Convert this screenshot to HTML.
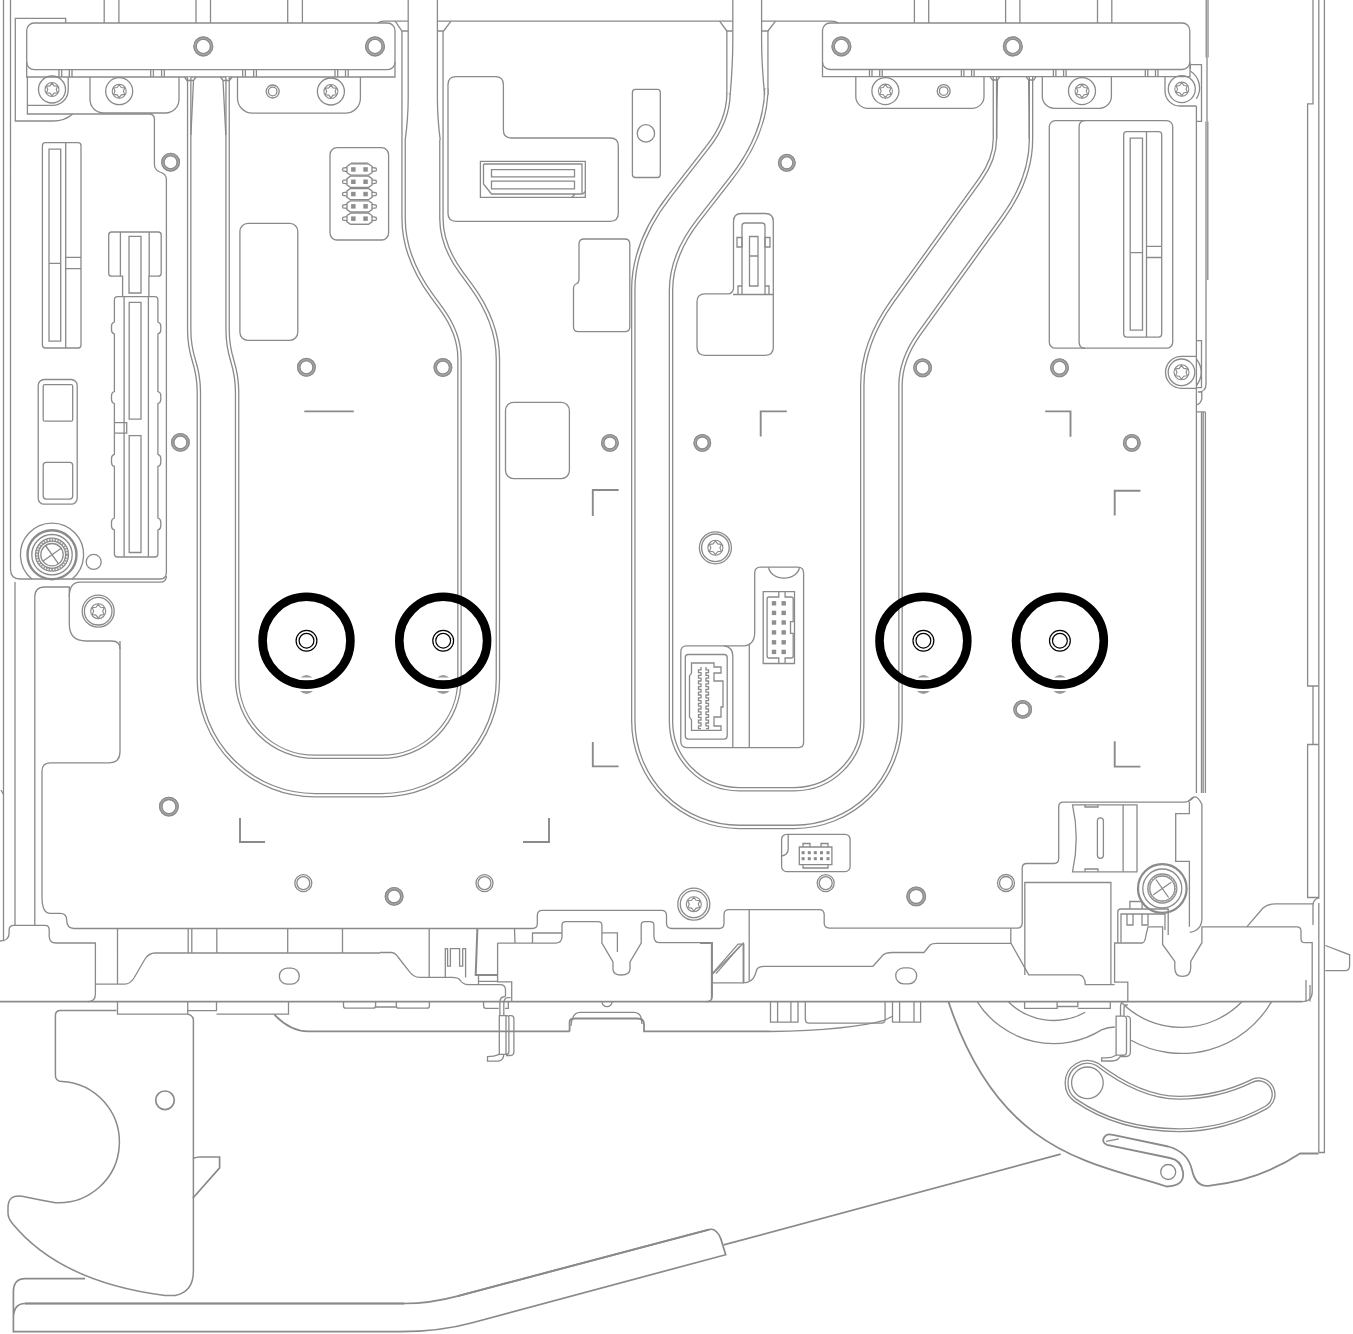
<!DOCTYPE html>
<html><head><meta charset="utf-8"><style>
html,body{margin:0;padding:0;background:#fff;width:1353px;height:1334px;overflow:hidden}
svg{display:block}
.g{fill:none;stroke:#8a8a8a;stroke-width:1.3}
.g2{fill:none;stroke:#b0b0b0;stroke-width:0.6}
.h{fill:none;stroke:#8a8a8a;stroke-width:2.6}
.pw{fill:none;stroke:#8a8a8a;stroke-width:4.6}
.pi{fill:none;stroke:#fff;stroke-width:2.0}
.k{fill:none;stroke:#000;stroke-width:8.6}
.k1{fill:none;stroke:#000;stroke-width:1.2}
</style></head><body>
<svg width="1353" height="1334" viewBox="0 0 1353 1334">
<path class="g" d="M3.5,0V941"/>
<path class="g" d="M10.5,0V569Q10.5,579 20,579H160Q166.4,579 166.4,572V179.5Q166.4,174 160,172Q154.4,170 154.4,164V119Q154.4,114 149,114H27.4V77"/>
<path class="g" d="M15.3,23V18.3H65.7V23M15.3,18.3V121H52.5Q65,121 72.7,114"/>
<path class="g" d="M104.2,0V23"/>
<path class="g" d="M118.9,0V23"/>
<path class="g" d="M196,0V23"/>
<path class="g" d="M210.5,0V23"/>
<path class="g" d="M287.7,0V23"/>
<path class="g" d="M302.4,0V23"/>
<path class="g" d="M914.4,0V23"/>
<path class="g" d="M928.7,0V23"/>
<path class="g" d="M1005.6,0V23"/>
<path class="g" d="M1019.9,0V23"/>
<path class="g" d="M1097.5,0V23"/>
<path class="g" d="M1111.8,0V23"/>
<rect class="g" x="26.7" y="23.0" width="368.3" height="46.7" rx="7.5"/>
<path class="g" d="M26.7,62V77H395V62"/>
<path class="g" d="M59,69.7V77M61.7,69.7V77"/>
<path class="g" d="M69.3,69.7V77M72.0,69.7V77"/>
<path class="g" d="M150.7,69.7V77M153.39999999999998,69.7V77"/>
<path class="g" d="M161.6,69.7V77M164.29999999999998,69.7V77"/>
<path class="g" d="M242.7,69.7V77M245.39999999999998,69.7V77"/>
<path class="g" d="M253.7,69.7V77M256.4,69.7V77"/>
<path class="g" d="M335,69.7V77M337.7,69.7V77"/>
<path class="g" d="M345.5,69.7V77M348.2,69.7V77"/>
<circle cx="203.3" cy="46.4" r="8.299999999999999" fill="none" stroke="#a6a6a6" stroke-width="3.4"/>
<circle class="g" style="stroke-width:1.1" cx="203.3" cy="46.4" r="9.5"/><circle class="g" style="stroke-width:1.1" cx="203.3" cy="46.4" r="7.1"/>
<circle cx="375" cy="46.4" r="8.299999999999999" fill="none" stroke="#a6a6a6" stroke-width="3.4"/>
<circle class="g" style="stroke-width:1.1" cx="375" cy="46.4" r="9.5"/><circle class="g" style="stroke-width:1.1" cx="375" cy="46.4" r="7.1"/>
<path class="g" d="M27.4,105.4H52.5A15.5,15.5 0 0 0 68.2,89.5V77"/>
<circle class="g" cx="52" cy="89.5" r="13.5"/>
<path class="g" style="stroke-width:1.1" d="M52.00,83.06 L54.10,85.86 L57.58,86.28 L56.20,89.50 L57.58,92.72 L54.10,93.14 L52.00,95.94 L49.90,93.14 L46.42,92.72 L47.80,89.50 L46.42,86.28 L49.90,85.86Z"/>
<circle class="g" style="stroke-width:1.1" cx="52" cy="89.5" r="7"/>
<path class="g" d="M90,77V99.5A13.5,13.5 0 0 0 103.5,113H165.5A13.5,13.5 0 0 0 179,99.5V77"/>
<circle class="g" cx="119.2" cy="91.2" r="13.5"/>
<path class="g" style="stroke-width:1.1" d="M119.20,84.76 L121.30,87.56 L124.78,87.98 L123.40,91.20 L124.78,94.42 L121.30,94.84 L119.20,97.64 L117.10,94.84 L113.62,94.42 L115.00,91.20 L113.62,87.98 L117.10,87.56Z"/>
<circle class="g" style="stroke-width:1.1" cx="119.2" cy="91.2" r="7"/>
<path class="g" d="M237.5,77V98A15,15 0 0 0 252.5,113.2H345.4A15,15 0 0 0 360.4,98V77"/>
<circle class="g" cx="272.7" cy="91.5" r="6.5"/>
<circle class="g" cx="272.7" cy="91.5" r="4.3"/>
<circle class="g" cx="330.9" cy="91.5" r="13.5"/>
<path class="g" style="stroke-width:1.1" d="M330.90,85.06 L333.00,87.86 L336.48,88.28 L335.10,91.50 L336.48,94.72 L333.00,95.14 L330.90,97.94 L328.80,95.14 L325.32,94.72 L326.70,91.50 L325.32,88.28 L328.80,87.86Z"/>
<circle class="g" style="stroke-width:1.1" cx="330.9" cy="91.5" r="7"/>
<path class="g" d="M437.4,21.1H451M443.6,31L451,21.1H732.8M761.6,21.1H831Q836,21.1 838.5,23"/>
<path class="g" d="M395.2,21.1L401.9,31H408.2"/>
<path class="g" d="M384,21.1H408.2M384,21.1Q380,21.1 378,23"/>
<rect class="g" x="822.5" y="23.0" width="367.3" height="46.5" rx="7.5"/>
<path class="g" d="M822.5,62V76.6H1190V62"/>
<path class="g" d="M869.5,69.5V76.6M872.0,69.5V76.6"/>
<path class="g" d="M879.7,69.5V76.6M882.2,69.5V76.6"/>
<path class="g" d="M961.4,69.5V76.6M963.9,69.5V76.6"/>
<path class="g" d="M971.6,69.5V76.6M974.1,69.5V76.6"/>
<path class="g" d="M1053.4,69.5V76.6M1055.9,69.5V76.6"/>
<path class="g" d="M1063.6,69.5V76.6M1066.1,69.5V76.6"/>
<path class="g" d="M1145.3,69.5V76.6M1147.8,69.5V76.6"/>
<path class="g" d="M1155.5,69.5V76.6M1158.0,69.5V76.6"/>
<circle cx="841.4" cy="46.4" r="8.299999999999999" fill="none" stroke="#a6a6a6" stroke-width="3.4"/>
<circle class="g" style="stroke-width:1.1" cx="841.4" cy="46.4" r="9.5"/><circle class="g" style="stroke-width:1.1" cx="841.4" cy="46.4" r="7.1"/>
<circle cx="1012.8" cy="46.4" r="8.299999999999999" fill="none" stroke="#a6a6a6" stroke-width="3.4"/>
<circle class="g" style="stroke-width:1.1" cx="1012.8" cy="46.4" r="9.5"/><circle class="g" style="stroke-width:1.1" cx="1012.8" cy="46.4" r="7.1"/>
<path class="g" d="M855.8,76.6V96.4A12,12 0 0 0 867.8,108.4H972A12,12 0 0 0 984,96.4V76.6"/>
<circle class="g" cx="885.4" cy="91.1" r="13.5"/>
<path class="g" style="stroke-width:1.1" d="M885.40,84.66 L887.50,87.46 L890.98,87.88 L889.60,91.10 L890.98,94.32 L887.50,94.74 L885.40,97.54 L883.30,94.74 L879.82,94.32 L881.20,91.10 L879.82,87.88 L883.30,87.46Z"/>
<circle class="g" style="stroke-width:1.1" cx="885.4" cy="91.1" r="7"/>
<circle class="g" cx="943.7" cy="91.1" r="6.5"/>
<circle class="g" cx="943.7" cy="91.1" r="4.3"/>
<path class="g" d="M1042.3,76.6V96.3A12,12 0 0 0 1054.3,108.3H1099.4A12,12 0 0 0 1111.4,96.3V76.6"/>
<circle class="g" cx="1082" cy="91.1" r="13.5"/>
<path class="g" style="stroke-width:1.1" d="M1082.00,84.66 L1084.10,87.46 L1087.58,87.88 L1086.20,91.10 L1087.58,94.32 L1084.10,94.74 L1082.00,97.54 L1079.90,94.74 L1076.42,94.32 L1077.80,91.10 L1076.42,87.88 L1079.90,87.46Z"/>
<circle class="g" style="stroke-width:1.1" cx="1082" cy="91.1" r="7"/>
<path class="g" d="M1190.3,69.5V64.7H1201.5V121.4H1196.2"/>
<path class="g" d="M1165,76.6V91A15,15 0 0 0 1180,106H1196.2"/>
<path class="g" d="M1190.3,71A20,20 0 0 1 1196.2,99"/>
<circle class="g" cx="1181.8" cy="89.1" r="13.5"/>
<path class="g" style="stroke-width:1.1" d="M1181.80,82.66 L1183.90,85.46 L1187.38,85.88 L1186.00,89.10 L1187.38,92.32 L1183.90,92.74 L1181.80,95.54 L1179.70,92.74 L1176.22,92.32 L1177.60,89.10 L1176.22,85.88 L1179.70,85.46Z"/>
<circle class="g" style="stroke-width:1.1" cx="1181.8" cy="89.1" r="7"/>
<path class="g" d="M1196.4,106V793"/>
<path class="g" d="M1206.2,0V57.5M1208,0V57.5M1207,57.5V121.4M1206,121.4V384Q1206,392 1198,392H1201.8V399Q1200,404.7 1196.4,404.7M1196.4,411.9H1205.4M1201.5,412V793M1203.2,412V793M1205.4,412V793"/>
<path class="g" d="M1313,0V103.8H1307.6V686H1318.8M1313,686V744.5M1318.8,744.5H1307.6V897.5H1318.8"/>
<path class="g" d="M1318.8,0V898.7"/>
<path class="pw" d="M189.2,77V330C189.2,361 198.85,361 198.85,392V679A116.2,116.2 0 0 0 315,795.2H381.9A116,116 0 0 0 497.9,679V359.2Q497.9,322.2 470.6,285.2L461.3,272.5Q441.4,245.5 441.4,218.5V140"/><path class="pi" d="M189.2,77V330C189.2,361 198.85,361 198.85,392V679A116.2,116.2 0 0 0 315,795.2H381.9A116,116 0 0 0 497.9,679V359.2Q497.9,322.2 470.6,285.2L461.3,272.5Q441.4,245.5 441.4,218.5V140"/>
<path class="g" d="M443.05,140V31"/>
<path class="pw" d="M227.6,77V330C227.6,361 237.1,361 237.1,392V679A77.8,77.8 0 0 0 314.9,756.8H381.7A77.8,77.8 0 0 0 459.5,679V358.3Q459.5,333.3 441.1,308.3L432.3,296.4Q403.6,257.4 403.6,218.4V140"/><path class="pi" d="M227.6,77V330C227.6,361 237.1,361 237.1,392V679A77.8,77.8 0 0 0 314.9,756.8H381.7A77.8,77.8 0 0 0 459.5,679V358.3Q459.5,333.3 441.1,308.3L432.3,296.4Q403.6,257.4 403.6,218.4V140"/>
<path class="g" d="M401.95,140V31"/>
<path class="g" d="M408.2,0V98Q408.2,118 405.2,140M437.4,0V98Q437.4,118 440.2,140M437.4,31H443.6"/>
<path class="g" d="M726.85,31V95"/>
<path class="pw" d="M728.5,95V93.4Q728.5,120.4 707.4,147.4L670.0,195.4Q633.3,242.4 633.3,289.4V721A106,106 0 0 0 739.3,826.9H794.5A106,106 0 0 0 900.5,721V385.6Q900.5,359.6 919.2,333.6L1002.9,217.4Q1031,178.4 1031,139.4V77"/><path class="pi" d="M728.5,95V93.4Q728.5,120.4 707.4,147.4L670.0,195.4Q633.3,242.4 633.3,289.4V721A106,106 0 0 0 739.3,826.9H794.5A106,106 0 0 0 900.5,721V385.6Q900.5,359.6 919.2,333.6L1002.9,217.4Q1031,178.4 1031,139.4V77"/>
<path class="g" d="M767.95,31V95"/>
<path class="pw" d="M766.3,95V88.2Q766.3,133.2 731.2,178.2L698.3,220.4Q671,255.4 671,290.4V721A68,68 0 0 0 739,789.2H794.3A68,68 0 0 0 862.3,721V385.2Q862.3,343.2 892.5,301.2L980.5,179.1Q994.9,159.1 994.9,139.1V77"/><path class="pi" d="M766.3,95V88.2Q766.3,133.2 731.2,178.2L698.3,220.4Q671,255.4 671,290.4V721A68,68 0 0 0 739,789.2H794.3A68,68 0 0 0 862.3,721V385.2Q862.3,343.2 892.5,301.2L980.5,179.1Q994.9,159.1 994.9,139.1V77"/>
<path class="g" d="M732.8,0V40Q732.8,65 730.15,95M761.6,0V40Q761.6,65 764.65,95"/>
<path class="g" d="M719.6,21.1L726.85,31H732.8M775.5,21.1L767.95,31H761.6"/>
<circle class="k" cx="306.5" cy="640.7" r="43.9"/>
<circle class="k1" cx="306.5" cy="640.7" r="10.4"/>
<circle class="k1" cx="306.5" cy="640.7" r="7.4"/>
<circle class="k" cx="443.2" cy="640.7" r="43.9"/>
<circle class="k1" cx="443.2" cy="640.7" r="10.4"/>
<circle class="k1" cx="443.2" cy="640.7" r="7.4"/>
<circle class="k" cx="923.4" cy="640.7" r="43.9"/>
<circle class="k1" cx="923.4" cy="640.7" r="10.4"/>
<circle class="k1" cx="923.4" cy="640.7" r="7.4"/>
<circle class="k" cx="1059.9" cy="640.7" r="43.9"/>
<circle class="k1" cx="1059.9" cy="640.7" r="10.4"/>
<circle class="k1" cx="1059.9" cy="640.7" r="7.4"/>
<rect class="g" x="42.4" y="142.7" width="38.6" height="205.3" rx="3"/>
<path class="g" d="M65.7,142.7V348"/>
<path class="g" d="M49,149.2H60.7V341.2H49Z"/>
<path class="g" d="M49,263.4H60.7M65.7,257.4H81M65.7,268.7H81"/>
<rect class="g" x="38.2" y="379.5" width="39.0" height="124.7" rx="6"/>
<rect class="g" x="43.2" y="384.7" width="29.5" height="36.5" rx="1.5"/>
<rect class="g" x="43.2" y="462.4" width="29.5" height="36.7" rx="3"/>
<path class="g" d="M122.6,296.7V276.2H111.7Q108.7,276.2 108.7,273.2V235Q108.7,232 111.7,232H158.2Q161.2,232 161.2,235V273.2Q161.2,276.2 158.2,276.2H148.9V296.7"/>
<path class="g" d="M120.4,232V276.2M149.2,232V276.2"/>
<path class="g" d="M129,236.4H141V293H129Z"/>
<path class="g" d="M114.4,300Q114.4,296.7 117.5,296.7H154.8Q157.9,296.7 157.9,300V322Q160.8,323 160.8,326V330Q160.8,333 157.9,334V391.5Q160.8,392.5 160.8,395.5V399.5Q160.8,402.5 157.9,403.5V454.4Q160.8,455.4 160.8,458.4V462.4Q160.8,465.4 157.9,466.4V518Q160.8,519 160.8,522V526Q160.8,529 157.9,530V554Q157.9,557 154.8,557H117.5Q114.4,557 114.4,554V530Q111.5,529 111.5,526V522Q111.5,519 114.4,518V466.4Q111.5,465.4 111.5,462.4V458.4Q111.5,455.4 114.4,454.4V403.5Q111.5,402.5 111.5,399.5V395.5Q111.5,392.5 114.4,391.5V334Q111.5,333 111.5,330V326Q111.5,323 114.4,322V300"/>
<path class="g" d="M124.1,296.7V557M148.4,296.7V557"/>
<path class="g" d="M129.2,302.4H141V419.2H129.2Z"/>
<path class="g" d="M129.2,435.7H141V552.5H129.2Z"/>
<path class="g" d="M114.7,422.7H126.7V433.1H114.7"/>
<circle cx="170.6" cy="162.2" r="7.7" fill="none" stroke="#a6a6a6" stroke-width="3.4"/>
<circle class="g" style="stroke-width:1.1" cx="170.6" cy="162.2" r="8.9"/><circle class="g" style="stroke-width:1.1" cx="170.6" cy="162.2" r="6.5"/>
<circle cx="180.4" cy="442.4" r="7.7" fill="none" stroke="#a6a6a6" stroke-width="3.4"/>
<circle class="g" style="stroke-width:1.1" cx="180.4" cy="442.4" r="8.9"/><circle class="g" style="stroke-width:1.1" cx="180.4" cy="442.4" r="6.5"/>
<circle cx="306.4" cy="367.3" r="7.7" fill="none" stroke="#a6a6a6" stroke-width="3.4"/>
<circle class="g" style="stroke-width:1.1" cx="306.4" cy="367.3" r="8.9"/><circle class="g" style="stroke-width:1.1" cx="306.4" cy="367.3" r="6.5"/>
<rect class="g" x="239.9" y="223.4" width="57.9" height="116.9" rx="8"/>
<rect class="g" x="330.0" y="147.7" width="58.6" height="92.3" rx="7"/>
<path class="g" d="M350.5,163.9H368.5L372,166.3V172.7L368.5,175.1H350.5L347,172.7V166.3Z"/>
<path class="g" d="M347,167.5L343,168.1Q341.9,169.5 343,170.9L347,171.5M372,167.5L376,168.1Q377,169.5 376,170.9L372,171.5"/>
<rect x="351.1" y="167.2" width="4.5" height="4.5" fill="#8f8f8f"/><rect x="363.3" y="167.2" width="4.5" height="4.5" fill="#8f8f8f"/>
<path class="g" d="M350.5,176.20000000000002H368.5L372,178.60000000000002V185.0L368.5,187.4H350.5L347,185.0V178.60000000000002Z"/>
<path class="g" d="M347,179.8L343,180.4Q341.9,181.8 343,183.20000000000002L347,183.8M372,179.8L376,180.4Q377,181.8 376,183.20000000000002L372,183.8"/>
<rect x="351.1" y="179.5" width="4.5" height="4.5" fill="#8f8f8f"/><rect x="363.3" y="179.5" width="4.5" height="4.5" fill="#8f8f8f"/>
<path class="g" d="M350.5,188.5H368.5L372,190.9V197.29999999999998L368.5,199.7H350.5L347,197.29999999999998V190.9Z"/>
<path class="g" d="M347,192.1L343,192.7Q341.9,194.1 343,195.5L347,196.1M372,192.1L376,192.7Q377,194.1 376,195.5L372,196.1"/>
<rect x="351.1" y="191.79999999999998" width="4.5" height="4.5" fill="#8f8f8f"/><rect x="363.3" y="191.79999999999998" width="4.5" height="4.5" fill="#8f8f8f"/>
<path class="g" d="M350.5,200.8H368.5L372,203.20000000000002V209.6L368.5,212.0H350.5L347,209.6V203.20000000000002Z"/>
<path class="g" d="M347,204.4L343,205.0Q341.9,206.4 343,207.8L347,208.4M372,204.4L376,205.0Q377,206.4 376,207.8L372,208.4"/>
<rect x="351.1" y="204.1" width="4.5" height="4.5" fill="#8f8f8f"/><rect x="363.3" y="204.1" width="4.5" height="4.5" fill="#8f8f8f"/>
<path class="g" d="M350.5,213.1H368.5L372,215.5V221.89999999999998L368.5,224.29999999999998H350.5L347,221.89999999999998V215.5Z"/>
<path class="g" d="M347,216.7L343,217.29999999999998Q341.9,218.7 343,220.1L347,220.7M372,216.7L376,217.29999999999998Q377,218.7 376,220.1L372,220.7"/>
<rect x="351.1" y="216.39999999999998" width="4.5" height="4.5" fill="#8f8f8f"/><rect x="363.3" y="216.39999999999998" width="4.5" height="4.5" fill="#8f8f8f"/>
<path class="g" d="M351,163.1H368M351,224.3H368"/>
<path class="g" d="M31.8,579A31.6,31.6 0 1 1 72.2,579"/>
<circle class="g" style="stroke-width:2.4" cx="52" cy="554.7" r="24.5"/>
<circle class="g" cx="52" cy="554.7" r="20.2"/>
<circle cx="52" cy="554.7" r="15" fill="none" stroke="#a0a0a0" stroke-width="2.6" stroke-dasharray="1.6 1.2"/>
<circle class="g" cx="52" cy="554.7" r="16.5"/>
<circle class="g" cx="52" cy="554.7" r="13.6"/>
<circle class="g" cx="52" cy="554.7" r="11.2"/>
<path class="g" d="M45.5,545.5L58.5,563.9M61.2,548.2L42.8,561.2"/>
<circle class="g" cx="93.7" cy="561.9" r="7.5"/>
<path class="g" d="M15,582V925.4"/>
<path class="g" d="M34.8,925.4V597Q34.8,587 44.8,587H69.3V624Q69.3,641 86,641H112Q120,641 120,649"/>
<path class="g" d="M69.3,597Q69.3,582.2 80,582.2H160Q166.4,582.2 166.4,576"/>
<circle class="g" cx="98.2" cy="611.2" r="16"/>
<circle class="g" cx="98.2" cy="611.2" r="13.8"/>
<circle class="g" cx="98.2" cy="611.2" r="0.01"/>
<path class="g" style="stroke-width:1.1" d="M98.20,604.30 L100.45,607.30 L104.18,607.75 L102.70,611.20 L104.18,614.65 L100.45,615.10 L98.20,618.10 L95.95,615.10 L92.22,614.65 L93.70,611.20 L92.22,607.75 L95.95,607.30Z"/>
<circle class="g" style="stroke-width:1.1" cx="98.2" cy="611.2" r="7.5"/>
<path class="g" style="stroke-width:1.9" d="M304.3,411.4H353.8"/>
<path class="g" d="M456,76.7H495.4Q503.4,76.7 503.4,84.7V130Q503.4,138 511.4,138H610.3Q618.3,138 618.3,146V213.3Q618.3,221.3 610.3,221.3H456Q448,221.3 448,213.3V84.7Q448,76.7 456,76.7Z"/>
<path class="g" d="M480.4,161.3H585.3V197.3H480.4Z"/>
<path class="g" d="M483.5,164H582V194H575L572,197.3M583,194L585.3,191.5M483.5,164V184L491.5,194H575"/>
<path class="g" d="M491.5,169.7H574.5V176.9H491.5ZM491.5,181.1H574.5V188.9H491.5Z"/>
<rect class="g" x="632.4" y="89.4" width="27.9" height="88.1" rx="3"/>
<circle class="g" cx="645.9" cy="133.4" r="8.7"/>
<path class="g" d="M584,239H624.8Q629.8,239 629.8,244V326.7Q629.8,331.7 624.8,331.7H578.5Q573.5,331.7 573.5,326.7V289Q573.5,285 576,284Q579,283 579,279V244Q579,239 584,239"/>
<circle cx="786.8" cy="162.8" r="7.2" fill="none" stroke="#a6a6a6" stroke-width="3.4"/>
<circle class="g" style="stroke-width:1.1" cx="786.8" cy="162.8" r="8.4"/><circle class="g" style="stroke-width:1.1" cx="786.8" cy="162.8" r="6.0"/>
<circle cx="442.9" cy="367.5" r="7.7" fill="none" stroke="#a6a6a6" stroke-width="3.4"/>
<circle class="g" style="stroke-width:1.1" cx="442.9" cy="367.5" r="8.9"/><circle class="g" style="stroke-width:1.1" cx="442.9" cy="367.5" r="6.5"/>
<path class="g" d="M697,301.9Q697,293.9 705,293.9H728Q732,293.9 733.5,289V221.5Q733.5,213.5 741.5,213.5H765.3Q773.3,213.5 773.3,221.5V347.3Q773.3,355.3 765.3,355.3H705Q697,355.3 697,347.3Z"/>
<path class="g" d="M733,294.5H773.3M742,294.5V226Q742,223 745,223H762Q765,223 765,226V294.5"/>
<path class="g" d="M737,237.5H742V247H737ZM765,237.5H770V247H765Z"/>
<path class="g" d="M749.5,236.5H758V286H749.5ZM749.5,256H758"/>
<path class="g" d="M738,294.5V286H742M769,294.5V286H765"/>
<rect class="g" x="505.5" y="402.4" width="63.9" height="76.2" rx="8"/>
<circle cx="609.9" cy="442.9" r="7.2" fill="none" stroke="#a6a6a6" stroke-width="3.4"/>
<circle class="g" style="stroke-width:1.1" cx="609.9" cy="442.9" r="8.4"/><circle class="g" style="stroke-width:1.1" cx="609.9" cy="442.9" r="6.0"/>
<circle cx="702.3" cy="442.9" r="7.2" fill="none" stroke="#a6a6a6" stroke-width="3.4"/>
<circle class="g" style="stroke-width:1.1" cx="702.3" cy="442.9" r="8.4"/><circle class="g" style="stroke-width:1.1" cx="702.3" cy="442.9" r="6.0"/>
<path class="g" style="stroke-width:1.9" d="M592.8,516V490H618.6"/>
<path class="g" style="stroke-width:1.9" d="M592.8,742V766.4H618.6"/>
<path class="g" style="stroke-width:1.9" d="M760.7,436.6V411.4H786.8"/>
<path class="g" style="stroke-width:1.9" d="M240,818V842H265"/>
<path class="g" style="stroke-width:1.9" d="M549,818V842H523"/>
<circle cx="168.9" cy="806.6" r="8.2" fill="none" stroke="#a6a6a6" stroke-width="3.4"/>
<circle class="g" style="stroke-width:1.1" cx="168.9" cy="806.6" r="9.4"/><circle class="g" style="stroke-width:1.1" cx="168.9" cy="806.6" r="7.0"/>
<circle class="g" cx="303.3" cy="883.1" r="8.5"/>
<circle class="g" cx="303.3" cy="883.1" r="6.5"/>
<circle cx="394.1" cy="896.4" r="7.7" fill="none" stroke="#a6a6a6" stroke-width="3.4"/>
<circle class="g" style="stroke-width:1.1" cx="394.1" cy="896.4" r="8.9"/><circle class="g" style="stroke-width:1.1" cx="394.1" cy="896.4" r="6.5"/>
<circle class="g" cx="484.5" cy="883.1" r="8.5"/>
<circle class="g" cx="484.5" cy="883.1" r="6.5"/>
<circle class="g" cx="693.8" cy="904.2" r="16"/>
<circle class="g" cx="693.8" cy="904.2" r="13.5"/>
<circle class="g" cx="693.8" cy="904.2" r="0.01"/>
<path class="g" style="stroke-width:1.1" d="M693.80,897.30 L696.05,900.30 L699.78,900.75 L698.30,904.20 L699.78,907.65 L696.05,908.10 L693.80,911.10 L691.55,908.10 L687.82,907.65 L689.30,904.20 L687.82,900.75 L691.55,900.30Z"/>
<circle class="g" style="stroke-width:1.1" cx="693.8" cy="904.2" r="7.5"/>
<path class="g" d="M3.6,794.7L1,790"/>
<path class="g" d="M120,641V751.8Q120,762.8 109,762.8H50.4Q42,762.8 42,771V897Q42,913.4 50.4,913.4H60Q66.7,913.4 66.7,920Q66.7,928.5 74,928.5H532.3Q537.3,928.5 537.3,923.5V915.4Q537.3,910.4 542.4,910.4H661.5Q666.5,910.4 666.5,915.4V923Q666.5,928.5 672,928.5H719Q724,928.5 724,923.5V914.7Q724,909.7 729,909.7H819.2Q824.2,909.7 824.2,914.7V923.1Q824.2,928.1 829.2,928.1H1017Q1022.2,928.1 1022.2,923V868Q1022.2,863.5 1027,863.5H1054Q1058.7,863.5 1058.7,858.5V807Q1058.7,802.2 1063.5,802.2H1184Q1189.1,802.2 1194,797"/>
<path class="g" d="M0,941Q9.1,941 9.1,933V930Q9.1,925.4 14,925.4H45Q49.2,925.4 49.2,930V936Q49.2,943 56,943H95.4V994Q95.4,1001.7 88,1001.7"/>
<path class="g" style="stroke-width:1.8" d="M0,1001.7H1302"/>
<path class="g" d="M117.5,928.5V984.2H95.4M117.5,984.2H124.7Q130,984.2 134,978L145,959Q149,953 155,953H380"/>
<path class="g" d="M188.2,928.5V953M191.8,928.5V953M216.8,928.5V953M287.7,928.5V953M342.5,928.5V953M429.2,928.5V977.2"/>
<rect class="g" x="279.3" y="968.2" width="20" height="16" rx="8"/>
<path class="g" d="M380,952.5H391Q395,952.5 398,957L409,971Q413,977.4 420,977.4"/>
<path class="g" d="M497.6,943.1H556Q562,942.7 562,936V925Q562,921.6 566,921.6H598Q601.9,921.6 601.9,925V943L613,962V969Q613,975 621,975Q630,975 630,969V962L641.2,943V925Q641.2,921.6 645,921.6H650Q653.9,921.6 653.9,925V936Q653.9,942.7 660,942.7H712.3V996Q712.3,1001.7 706,1001.7"/>
<path class="g" d="M601.9,932.9H617.4V952"/>
<path class="g" d="M712.3,973.6L738.1,944.1L743.8,944.1V982M716,973.6L740,946"/>
<path class="g" d="M749.2,909.7V980.7"/>
<path class="g" d="M711.5,943.4H700M711.5,943.4V999.5M711.5,975.1L743.2,943.4V982.9H711.5"/>
<path class="g" d="M743.2,982.9Q752,982.9 755,975L757,969Q759,966.3 765,966.3H873L883,955Q886,952.5 892,952.5H924L930,945Q932,943.4 937,943.4H1011.1L1028.7,974.9H1079.3Q1085.2,976 1085.2,984.6H1114.6"/>
<rect class="g" x="895.7" y="967.8" width="21" height="16" rx="8"/>
<path class="g" d="M117.5,1001.7V1014.1H187.7V1001.7M187.7,1010.6H216.5V1001.7M216.5,1014.1H288.5V1001.7"/>
<path class="g" d="M343.5,1001.7V1006Q343.5,1008.2 346,1008.2H373Q375.6,1008.2 375.6,1006V1001.7M375.6,1007H396.3V1001.7M396.3,1006Q396.3,1008.2 399,1008.2H427Q429.4,1008.2 429.4,1006V1001.7"/>
<path class="g" style="stroke-width:1.8" d="M274.2,1014.4Q290,1031.4 308.3,1031.4H569.6"/>
<path class="g" d="M505.5,996.5V990Q505.5,984.7 500,984.7H468.4Q463,984.7 460,980Q458,977.4 452,977.4H420"/>
<path class="g" d="M445.3,977.4V948.7H447.6V966.1H450.4V948.7H459.6V966.1H462.7V948.7H465.6V977.4"/>
<path class="g" style="stroke-width:2" d="M477.4,928.4L475.7,975.1H497"/>
<path class="g" d="M478.5,975.1V984.7M478.5,981.3H497.6"/>
<path class="g" d="M497.6,943.1V981.9H511.7V1002.1M514.5,928.4L515,943.1M532.5,943.1V933H562"/>
<path class="g" d="M505.5,996.5Q499.9,996.5 499.9,1002.1V1015.6M510.6,997.6H508Q503.8,997.6 503.8,1004V1015.6"/>
<path class="g" d="M499.3,1015.6H507Q508.9,1015.6 508.9,1018V1052Q508.9,1054.4 506,1054.4H499.3ZM508.9,1015.6H511Q513.9,1015.6 513.9,1019V1052Q513.9,1055.5 510,1055.5H506M506,1015.6V1054"/>
<path class="g" d="M499.3,1054.4Q494,1056.7 487.5,1056.7V1061.2H498.7Q503.8,1060 503.8,1054"/>
<path class="g" d="M483.6,1001.7V1006Q483.6,1008.3 486,1008.3H498.7M505,1008.3H508.3V1001.7"/>
<path class="g" style="stroke-width:1.8" d="M569.6,1031.4V1022Q569.6,1018.5 575,1018.5H637Q644,1018.5 644,1024V1031.4H770"/>
<path class="g" d="M571,1026Q572,1012.4 580,1012.4H634Q642,1012.4 642,1024"/>
<path class="g" style="stroke-width:1.5" d="M116.5,1010.6H60.4Q55.4,1010.6 55.4,1015.6V1075Q55.4,1081.5 62,1081.5A60.6,60.6 0 1 1 55.4,1202.7Q40,1200 22,1196.2Q8,1194 8,1208V1213Q8,1218 12,1223Q60,1282 165,1295.5H175Q193.4,1292 193.4,1271V1020Q193.4,1015.8 188,1014.1"/>
<circle class="g" style="stroke-width:1.7" cx="165" cy="1100.3" r="9.3"/>
<path class="g" style="stroke-width:1.7" d="M192.8,1158.5Q196,1157 200,1157H219.6V1167.9L192.8,1198.3"/>
<path class="g" style="stroke-width:1.7" d="M85,1278.7H25Q13.4,1278.7 13.4,1292V1331.6H400Q440,1331.6 472.3,1322.7L725.7,1254.7L720.7,1238.4Q716,1227.5 708.9,1229.6L457.6,1296.1Q430,1303.5 404.3,1303.5H25Q14,1303.5 13.4,1317"/>
<path class="g" style="stroke-width:2" d="M404.3,1303.5H25M708.9,1229.6L457.6,1296.1"/>
<path class="g" style="stroke-width:1.7" d="M723.6,1244.9L1060.7,1154.1"/>
<path class="g" style="stroke-width:1.8" d="M948.5,1001.8C998.9,1153.6 1090.4,1161.9 1166.5,1186.5Q1185,1186 1183,1172Q1181,1160 1170,1158L1107,1144.8Q1101,1142 1104.4,1137Q1107,1133 1113,1135L1168.2,1146.5Q1188,1152 1192,1170Q1196,1188 1210,1185.6Q1260,1180 1300,1153.5H1318.6"/>
<circle class="g" cx="1168.2" cy="1172" r="7.5"/>
<path class="g" d="M1106.1,1141.4L1118.9,1138.9"/>
<circle cx="1022.7" cy="709.4" r="7.7" fill="none" stroke="#a6a6a6" stroke-width="3.4"/>
<circle class="g" style="stroke-width:1.1" cx="1022.7" cy="709.4" r="8.9"/><circle class="g" style="stroke-width:1.1" cx="1022.7" cy="709.4" r="6.5"/>
<rect class="g" x="1049.3" y="120.6" width="123.4" height="227.6" rx="6"/>
<path class="g" d="M1085,120.6Q1079.1,120.6 1079.1,127V342Q1079.1,348.2 1085,348.2"/>
<rect class="g" x="1123.7" y="131.6" width="38.0" height="205.5" rx="3"/>
<path class="g" d="M1146.5,131.6V337.1"/>
<path class="g" d="M1130.2,138.1H1142.5V330.2H1130.2Z"/>
<path class="g" d="M1130.2,252.6H1142.5M1146.5,246.4H1161.7M1146.5,257.5H1161.7"/>
<circle cx="922.6" cy="367.8" r="7.7" fill="none" stroke="#a6a6a6" stroke-width="3.4"/>
<circle class="g" style="stroke-width:1.1" cx="922.6" cy="367.8" r="8.9"/><circle class="g" style="stroke-width:1.1" cx="922.6" cy="367.8" r="6.5"/>
<circle cx="1059.5" cy="367.8" r="7.7" fill="none" stroke="#a6a6a6" stroke-width="3.4"/>
<circle class="g" style="stroke-width:1.1" cx="1059.5" cy="367.8" r="8.9"/><circle class="g" style="stroke-width:1.1" cx="1059.5" cy="367.8" r="6.5"/>
<circle class="g" cx="1181.5" cy="372.3" r="13.3"/>
<path class="g" style="stroke-width:1.1" d="M1181.50,365.40 L1183.75,368.40 L1187.48,368.85 L1186.00,372.30 L1187.48,375.75 L1183.75,376.20 L1181.50,379.20 L1179.25,376.20 L1175.52,375.75 L1177.00,372.30 L1175.52,368.85 L1179.25,368.40Z"/>
<circle class="g" style="stroke-width:1.1" cx="1181.5" cy="372.3" r="7.5"/>
<path class="g" d="M1196.4,356.3H1181.5A16,16 0 0 0 1181.5,388.3H1196.4M1196.4,340.6H1201.5V387.6H1196.4M1196.4,358.8Q1206,372 1196.4,385.8"/>
<path class="g" style="stroke-width:1.9" d="M1045.2,411.4H1070.5V436.8"/>
<circle cx="1131.8" cy="442.9" r="7.2" fill="none" stroke="#a6a6a6" stroke-width="3.4"/>
<circle class="g" style="stroke-width:1.1" cx="1131.8" cy="442.9" r="8.4"/><circle class="g" style="stroke-width:1.1" cx="1131.8" cy="442.9" r="6.0"/>
<path class="g" style="stroke-width:1.9" d="M1114.7,515.6V490.7H1140.4"/>
<path class="g" style="stroke-width:1.9" d="M1114.7,741.2V766.6H1140.4"/>
<circle class="g" cx="715.4" cy="547.8" r="16"/>
<path class="g" style="stroke-width:1.1" d="M715.40,540.90 L717.65,543.90 L721.38,544.35 L719.90,547.80 L721.38,551.25 L717.65,551.70 L715.40,554.70 L713.15,551.70 L709.42,551.25 L710.90,547.80 L709.42,544.35 L713.15,543.90Z"/>
<circle class="g" style="stroke-width:1.1" cx="715.4" cy="547.8" r="7.5"/>
<circle class="g" cx="715.4" cy="547.8" r="13.8"/>
<path class="g" d="M754.7,632.4V573Q754.7,567.1 760.6,567.1H797.7Q803.6,567.1 803.6,573V742.6Q803.6,747.6 798.6,747.6H686.8Q680.8,747.6 680.8,741.6V651.9Q680.8,645.9 686.8,645.9H741.8Q754.7,645.9 754.7,632.4"/>
<path class="g" d="M768.6,567.1A15.5,12 0 0 0 799.5,567.1M724,645.9Q732.8,647 732.8,656"/>
<path class="g" d="M732.8,656V747.6M749.3,644.5V747.6"/>
<path class="g" d="M763.2,591.6H794.5V663.5H763.2Z"/>
<path class="g" d="M778.8,591.6V597H769Q767.1,597 767.1,599V656Q767.1,658 769,658H778.8V663.5M785.1,591.6V597H791Q793.2,597 793.2,599V621.6H790.5V633.3H793.2V656Q793.2,658 791,658H785.1V663.5"/>
<rect x="771.8" y="601.0999999999999" width="4.4" height="4.4" fill="#8f8f8f"/><rect x="781.5" y="601.0999999999999" width="4.4" height="4.4" fill="#8f8f8f"/>
<rect x="771.8" y="610.6999999999999" width="4.4" height="4.4" fill="#8f8f8f"/><rect x="781.5" y="610.6999999999999" width="4.4" height="4.4" fill="#8f8f8f"/>
<rect x="771.8" y="620.3" width="4.4" height="4.4" fill="#8f8f8f"/><rect x="781.5" y="620.3" width="4.4" height="4.4" fill="#8f8f8f"/>
<rect x="771.8" y="630.1999999999999" width="4.4" height="4.4" fill="#8f8f8f"/><rect x="781.5" y="630.1999999999999" width="4.4" height="4.4" fill="#8f8f8f"/>
<rect x="771.8" y="640.0999999999999" width="4.4" height="4.4" fill="#8f8f8f"/><rect x="781.5" y="640.0999999999999" width="4.4" height="4.4" fill="#8f8f8f"/>
<rect x="771.8" y="649.6999999999999" width="4.4" height="4.4" fill="#8f8f8f"/><rect x="781.5" y="649.6999999999999" width="4.4" height="4.4" fill="#8f8f8f"/>
<rect class="g" x="685.3" y="654.5" width="41.9" height="84.6" rx="3"/>
<path class="g" d="M691.5,663H714V667H721V673H714V681H723V707H721V717H714V726H721V730.4H691.5V720L689.5,717V676L691.5,673Z"/>
<path class="g" d="M701,667V669.8H698.5V672.6H701V675.4H698.5V678.2H701V681.0H698.5V683.8H701V686.6H698.5V689.4H701V692.2H698.5V695.0H701V697.8H698.5V700.6H701V703.4H698.5V706.2H701V709.0H698.5V711.8H701V714.6H698.5V717.4H701V720.2H698.5V723.0H701V725.8H698.5V728.6H701"/>
<path class="g" d="M706,667V669.8H708.5V672.6H706V675.4H708.5V678.2H706V681.0H708.5V683.8H706V686.6H708.5V689.4H706V692.2H708.5V695.0H706V697.8H708.5V700.6H706V703.4H708.5V706.2H706V709.0H708.5V711.8H706V714.6H708.5V717.4H706V720.2H708.5V723.0H706V725.8H708.5V728.6H706"/>
<rect class="g" x="781.6" y="834.3" width="68.5" height="37.3" rx="5"/>
<path class="g" d="M788.2,834.3V849Q788.2,855 781.6,856"/>
<path class="g" d="M799.3,847H831.9V864.7H799.3Z"/>
<path class="g" d="M803,847V843.5H810V847M821,847V843.5H828V847M803,864.7V868H828V864.7"/>
<rect x="801.6" y="851.2" width="3" height="3" fill="#8a8a8a"/>
<rect x="801.6" y="857.2" width="3" height="3" fill="#8a8a8a"/>
<rect x="807.8" y="851.2" width="3" height="3" fill="#8a8a8a"/>
<rect x="807.8" y="857.2" width="3" height="3" fill="#8a8a8a"/>
<rect x="813.8" y="851.2" width="3" height="3" fill="#8a8a8a"/>
<rect x="813.8" y="857.2" width="3" height="3" fill="#8a8a8a"/>
<rect x="820.0" y="851.2" width="3" height="3" fill="#8a8a8a"/>
<rect x="820.0" y="857.2" width="3" height="3" fill="#8a8a8a"/>
<rect x="826.5" y="851.2" width="3" height="3" fill="#8a8a8a"/>
<rect x="826.5" y="857.2" width="3" height="3" fill="#8a8a8a"/>
<circle class="g" cx="825.7" cy="883.1" r="8.5"/>
<circle class="g" cx="825.7" cy="883.1" r="6.5"/>
<circle cx="916.2" cy="896.4" r="8.2" fill="none" stroke="#a6a6a6" stroke-width="3.4"/>
<circle class="g" style="stroke-width:1.1" cx="916.2" cy="896.4" r="9.4"/><circle class="g" style="stroke-width:1.1" cx="916.2" cy="896.4" r="7.0"/>
<circle class="g" cx="1006" cy="883" r="8.5"/>
<circle class="g" cx="1006" cy="883" r="6.5"/>
<path d="M300.5,677.5Q306.5,672.5 312.5,677.5Z" fill="#999"/>
<path d="M300.0,691Q306.5,697 313.0,691Z" fill="#999"/>
<path d="M437.2,677.5Q443.2,672.5 449.2,677.5Z" fill="#999"/>
<path d="M436.7,691Q443.2,697 449.7,691Z" fill="#999"/>
<path d="M917.4,677.5Q923.4,672.5 929.4,677.5Z" fill="#999"/>
<path d="M916.9,691Q923.4,697 929.9,691Z" fill="#999"/>
<path d="M1053.9,677.5Q1059.9,672.5 1065.9,677.5Z" fill="#999"/>
<path d="M1053.4,691Q1059.9,697 1066.4,691Z" fill="#999"/>
<path class="g" d="M1187.9,801.9Q1192,796.8 1195.4,796.8Q1198,796.8 1201.9,804.3V918.4Q1201.9,930 1189.8,932.4"/>
<path class="g" d="M1189.4,801.9V813.7H1175.7V861.3H1189.4V926.8"/>
<path class="g" d="M1072.5,804.8H1137V871.8H1072.5Q1080,838 1072.5,804.8Z"/>
<path class="g" d="M1123.1,804.8V871.8"/>
<rect class="g" x="1097.4" y="817.8" width="6" height="40.5" rx="3"/>
<path class="g" d="M1085,804.8V807H1098V804.8M1085,871.8V869H1098V871.8"/>
<path class="g" d="M1024.8,974.9V882.5H1110.9V984.6"/>
<circle class="g" style="stroke-width:2.2" cx="1162.3" cy="888.5" r="24.3"/>
<circle class="g" cx="1162.3" cy="888.5" r="19.5"/>
<circle class="g" cx="1162.3" cy="888.5" r="14.5"/>
<circle class="g" cx="1162.3" cy="888.5" r="12.5"/>
<circle cx="1162.3" cy="888.5" r="13.5" fill="none" stroke="#a8a8a8" stroke-width="1.8" stroke-dasharray="1.5 1.2"/>
<path class="g" d="M1156,879.5L1168.6,897.5M1171.3,882.2L1153.3,894.8"/>
<path class="g" d="M1117.8,942.7V912Q1117.8,909 1121,909H1168.2V935"/>
<path class="g" d="M1121,942.7V914H1165V930M1127,914V925H1133V914M1142,914V925H1148V914M1129.9,909V901.5H1142.1V909"/>
<path class="g" d="M1127.8,1001.7V982.2H1114.6V943H1142Q1145,943 1146,935L1148,926.8H1162.6V944.5L1174.8,961.4V968Q1174.8,976.3 1182.3,976.3Q1190.7,976.3 1190.7,968V961.4L1201.9,942.7V926.8H1297Q1301,926.8 1301,931V938.7Q1301,942.7 1305,942.7H1312.2V992Q1312.2,1001.6 1302,1001.6"/>
<path class="g" d="M1246.8,926.8L1263,908Q1268,903.8 1275,903.8H1313.2"/>
<path class="g" d="M1306,1001.6V980M1310,1001.6V985"/>
<path class="g" d="M1318.8,897.5Q1313,900 1313,905V925"/>
<path class="g" d="M1318.8,903V1152.5"/>
<path class="g" d="M1324.4,0V1152.5H1318.8"/>
<path class="g" d="M1325.3,945.5L1349.6,954.8V966Q1349.6,970.7 1345,970.7H1325.3"/>
<path class="g" d="M977.3,1001.8A90.5,90.5 0 0 0 1101.5,1029.9Q1108,1027 1114.8,1027"/>
<path class="g" d="M1008.3,1001.8A64.5,64.5 0 0 0 1085.2,1012.2"/>
<path class="g" d="M1024.6,1001.8V1008.3H1057.1V1001.8M1057.1,1006.5H1077.8V1001.8M1077.8,1008.3H1110.3V1001.8"/>
<path class="g" d="M1122.2,1003.3A84.5,84.5 0 0 0 1241.9,1001.8"/>
<path class="g" d="M1131,1040.3A104,104 0 0 0 1271.5,1001.8"/>
<path class="g" d="M1127.8,1001.7H1124Q1120.5,1001.7 1120.5,1007V1016.1M1127.8,1005H1126Q1124,1005 1124,1009V1016.1"/>
<path class="g" d="M1116.1,1016.1H1124Q1126.5,1016.1 1126.5,1019V1052Q1126.5,1055.2 1123,1055.2H1116.1ZM1126.5,1016.1H1127Q1130.4,1016.1 1130.4,1020V1052Q1130.4,1056.5 1126,1056.5H1120"/>
<path class="g" d="M1116.1,1055.2Q1112,1057.8 1106,1057.8H1101.7V1061H1112Q1118,1061 1120,1056.5"/>
<path d="M1066.6,1082.8A20.8,20.8 0 0 1 1097.2,1064.4Q1140,1097.5 1179,1097.8Q1218,1097.5 1251.1,1081.4A15,15 0 0 1 1266.1,1107.4Q1225,1130.2 1179,1130.2Q1118,1130 1075,1100A21,21 0 0 1 1066.6,1082.8Z" fill="none" stroke="#8a8a8a" stroke-width="4.1"/><path d="M1066.6,1082.8A20.8,20.8 0 0 1 1097.2,1064.4Q1140,1097.5 1179,1097.8Q1218,1097.5 1251.1,1081.4A15,15 0 0 1 1266.1,1107.4Q1225,1130.2 1179,1130.2Q1118,1130 1075,1100A21,21 0 0 1 1066.6,1082.8Z" fill="none" stroke="#fff" stroke-width="1.5"/>
<circle class="g" cx="1087.4" cy="1082.8" r="15.8"/>
<path class="g" d="M770.5,1001.7V1022.1H798V1001.7M777.6,1001.7V1022.1M790.9,1001.7V1022.1"/>
<path class="g" d="M805.3,1001.7V1019Q805.3,1023.2 809.5,1023.2H881Q885.1,1023.2 885.1,1019V1001.7"/>
<path class="g" d="M892.5,1001.7V1022.1H920.6V1001.7M899.6,1001.7V1022.1M914,1001.7V1022.1"/>
<path class="g" d="M770,1031.5Q850,1030 885,1020L892.9,1016"/>
<path class="g" d="M602,1001.7A5,5 0 0 0 612,1001.7"/>
<path class="g" d="M184.5,77L187,80.5H193.5L196,77M193.5,80.5Q192,110 190.9,135"/>
<path class="g" d="M220.5,77L223,80.5H229.5L232,77M223,80.5Q224.5,110 225.8,135"/>
<path class="g" d="M990,76.6L992.4,80H997.5L1000,76.6M997.5,80Q996.7,110 996.7,139"/>
<path class="g" d="M1026,76.6L1028.6,80H1033.7L1036,76.6M1028.6,80Q1029.2,110 1029.2,139"/>
<path class="g" d="M1010.8,928.1V943.4"/>
<path class="g" d="M1207.8,121.4V280"/>
</svg>
</body></html>
